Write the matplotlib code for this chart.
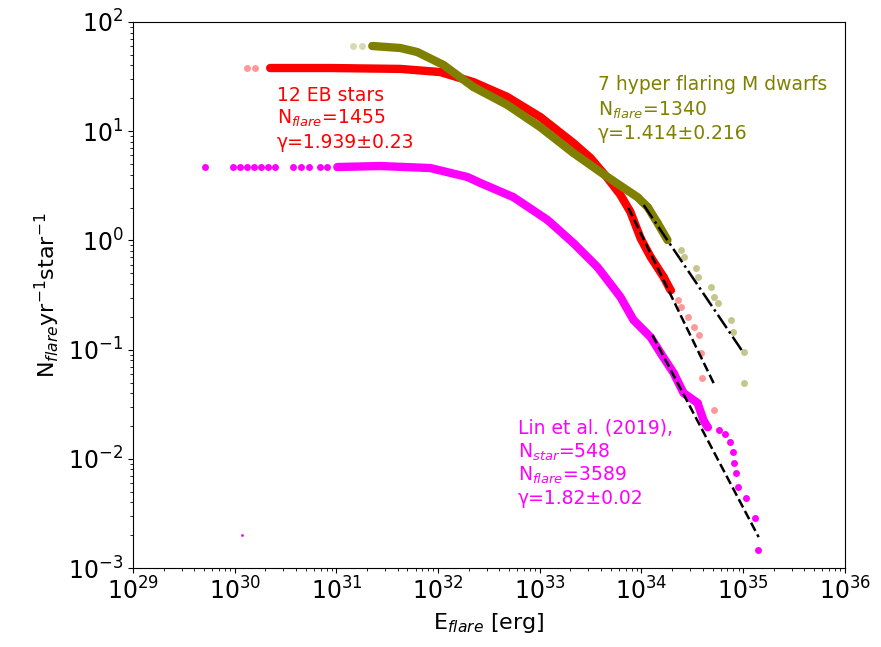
import numpy as np
import matplotlib.pyplot as plt
from matplotlib.ticker import LogLocator, NullFormatter

# ---- data (E in erg, N in flares / yr / star) ----
# 12 EB stars (red)
eb_head_E = [1.32e30, 1.59e30]
eb_head_N = [37.9, 37.9]
eb_body_E = [2.23e30, 8.69e30, 4.25e31, 1.05e32, 2.22e32, 4.80e32, 1.01e33, 2.14e33,
             3.15e33, 4.63e33, 6.21e33, 7.79e33, 9.78e33, 1.23e34, 1.65e34, 1.93e34]
eb_body_N = [37.9, 37.9, 37.2, 34.8, 28.2, 20.6, 13.5, 7.80,
             5.69, 3.73, 2.61, 1.82, 1.05, 0.705, 0.462, 0.351]
eb_tail_E = [2.26e34, 2.42e34, 2.84e34, 3.25e34, 3.64e34, 3.81e34, 3.98e34, 5.12e34]
eb_tail_N = [0.284, 0.245, 0.199, 0.161, 0.136, 0.0931, 0.0550, 0.0280]
eb_fit_E = [7.45e33, 5.12e34]
eb_fit_N = [1.98, 0.0494]

# 7 hyper flaring M dwarfs (olive)
md_head_E = [1.46e31, 1.79e31]
md_head_N = [60.3, 60.3]
md_body_E = [2.25e31, 4.25e31, 6.24e31, 1.13e32, 2.22e32, 4.80e32, 1.01e33, 2.14e33,
             4.63e33, 9.14e33, 1.15e34, 1.44e34, 1.80e34]
md_body_N = [60.3, 57.8, 53.1, 40.4, 25.4, 17.4, 10.9, 6.31,
             3.81, 2.49, 2.02, 1.44, 1.01]
md_tail_E = [2.42e34, 2.59e34, 3.40e34, 3.56e34, 4.78e34, 5.12e34, 5.60e34,
             7.52e34, 7.87e34, 1.01e35, 1.01e35]
md_tail_N = [0.817, 0.705, 0.559, 0.462, 0.374, 0.303, 0.267,
             0.187, 0.145, 0.0951, 0.0494]
md_fit_E = [1.05e34, 1.01e35]
md_fit_N = [2.11, 0.093]

# Lin et al. (2019) (magenta)
lin_head_E = [5.11e29, 9.64e29, 1.13e30, 1.32e30, 1.55e30, 1.82e30, 2.13e30, 2.50e30,
              3.76e30, 4.50e30, 5.40e30, 6.93e30, 8.11e30]
lin_head_N = [4.70] * 13
lin_body_E = [1.02e31, 2.70e31, 8.38e31, 1.94e32, 2.60e32, 5.50e32, 1.19e33, 2.14e33,
              3.69e33, 6.21e33, 8.34e33, 1.23e34, 1.54e34, 2.07e34, 2.59e34,
              3.56e34, 4.07e34, 4.47e34]
lin_body_N = [4.70, 4.80, 4.60, 3.81, 3.36, 2.49, 1.54, 0.946,
              0.570, 0.303, 0.187, 0.130, 0.0931, 0.0611, 0.0401,
              0.0325, 0.0226, 0.0195]
lin_tail_E = [5.73e34, 6.56e34, 7.35e34, 7.87e34, 8.05e34, 8.42e34, 8.81e34,
              1.06e35, 1.32e35, 1.39e35]
lin_tail_N = [0.0184, 0.0169, 0.0143, 0.0115, 0.00917, 0.00742, 0.00552,
              0.00438, 0.00287, 0.00146]
lin_fit_E = [1.28e34, 1.42e35]
lin_fit_N = [0.136, 0.00192]
lin_stray_E = [1.18e30]
lin_stray_N = [0.0020]

x_ticks = [1e29, 1e30, 1e31, 1e32, 1e33, 1e34, 1e35, 1e36]
y_ticks = [1e-3, 1e-2, 1e-1, 1e0, 1e1, 1e2]

RED, OLIVE, MAG = '#ff0000', '#808000', '#ff00ff'

fig = plt.figure(figsize=(8.81, 6.47), dpi=100)
ax = fig.add_axes([0.151, 0.122, 0.808, 0.844])

ms = 5
band = dict(lw=6, mew=0, solid_joinstyle='round', solid_capstyle='round')
# red
ax.plot(eb_head_E, eb_head_N, 'o', color=RED, ms=ms, alpha=0.4, mew=0)
ax.plot(eb_body_E, eb_body_N, '-o', color=RED, ms=ms, **band)
ax.plot(eb_tail_E, eb_tail_N, 'o', color=RED, ms=ms, alpha=0.4, mew=0)
# olive
ax.plot(md_head_E, md_head_N, 'o', color=OLIVE, ms=ms, alpha=0.3, mew=0)
ax.plot(md_body_E, md_body_N, '-o', color=OLIVE, ms=ms, **band)
ax.plot(md_tail_E, md_tail_N, 'o', color=OLIVE, ms=ms, alpha=0.45, mew=0)
# magenta
ax.plot(lin_head_E, lin_head_N, 'o', color=MAG, ms=ms, mew=0)
ax.plot(lin_body_E, lin_body_N, '-o', color=MAG, ms=ms, **band)
ax.plot(lin_tail_E, lin_tail_N, 'o', color=MAG, ms=ms, mew=0)
ax.plot(lin_stray_E, lin_stray_N, 'o', color=MAG, ms=2, mew=0)

# power-law fits
ax.plot(eb_fit_E, eb_fit_N, '--', color='black', lw=1.8)
ax.plot(md_fit_E, md_fit_N, '-.', color='black', lw=1.8)
ax.plot(lin_fit_E, lin_fit_N, '--', color='black', lw=1.8)

ax.set_xscale('log')
ax.set_yscale('log')
ax.set_xticks(x_ticks)
ax.set_yticks(y_ticks)
ax.set_xlim(1e29, 1e36)
ax.set_ylim(1e-3, 1e2)
for axis in (ax.xaxis, ax.yaxis):
    axis.set_minor_locator(LogLocator(base=10, subs=np.arange(2, 10), numticks=100))
    axis.set_minor_formatter(NullFormatter())
ax.tick_params(which='major', labelsize=17)

ax.set_xlabel('E$_{flare}$ [erg]', fontsize=16)
ax.set_ylabel('N$_{flare}$yr$^{-1}$star$^{-1}$', fontsize=16)

fs = 13.5
tkw = dict(transform=ax.transAxes, fontsize=fs, va='center', ha='left')
ax.text(0.202, 0.866, '12 EB stars', color=RED, **tkw)
ax.text(0.202, 0.824, 'N$_{flare}$=1455', color=RED, **tkw)
ax.text(0.202, 0.780, 'γ=1.939±0.23', color=RED, **tkw)

ax.text(0.653, 0.886, '7 hyper flaring M dwarfs', color=OLIVE, **tkw)
ax.text(0.653, 0.839, 'N$_{flare}$=1340', color=OLIVE, **tkw)
ax.text(0.653, 0.795, 'γ=1.414±0.216', color=OLIVE, **tkw)

ax.text(0.541, 0.256, 'Lin et al. (2019),', color=MAG, **tkw)
ax.text(0.541, 0.212, 'N$_{star}$=548', color=MAG, **tkw)
ax.text(0.541, 0.170, 'N$_{flare}$=3589', color=MAG, **tkw)
ax.text(0.541, 0.128, 'γ=1.82±0.02', color=MAG, **tkw)

fig.savefig('out.png', dpi=100)
